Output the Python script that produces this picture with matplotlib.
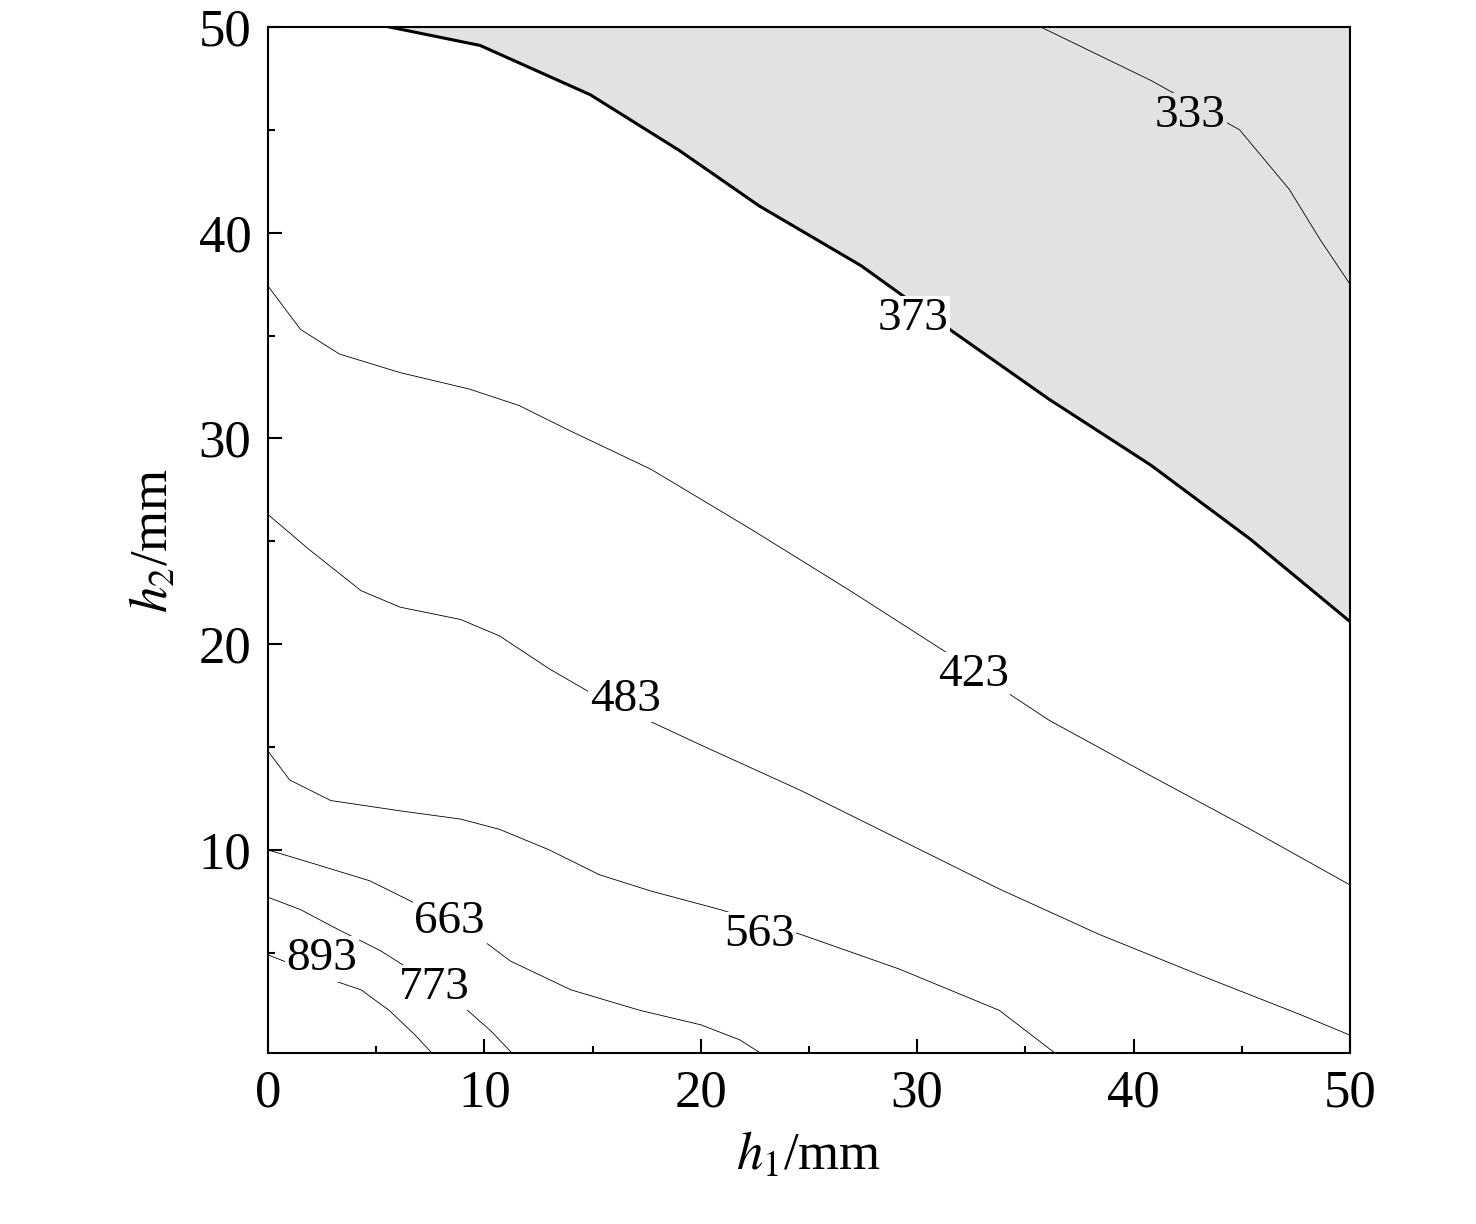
import matplotlib
matplotlib.use("Agg")
import matplotlib.pyplot as plt
from matplotlib.ticker import MultipleLocator

plt.rcParams["font.family"] = ["Liberation Serif", "DejaVu Serif"]
plt.rcParams["mathtext.fontset"] = "stix"

# contour lines: (h1, h2) points
c333_x = [35.7, 40.8, 44.9, 47.2, 48.6, 50.0]
c333_y = [50.0, 47.4, 45.0, 42.1, 39.7, 37.5]
c373_x = [5.6, 9.8, 14.9, 19.0, 22.7, 27.4, 31.5, 36.1, 40.8, 45.4, 50.0]
c373_y = [50.0, 49.1, 46.7, 44.0, 41.3, 38.4, 35.3, 31.9, 28.7, 25.1, 21.1]
c423_x = [0, 1.5, 3.3, 6.1, 9.3, 11.6, 13.9, 17.7, 22.3, 26.9, 31.5, 36.1, 40.8, 45.4, 50.0]
c423_y = [37.4, 35.3, 34.1, 33.2, 32.4, 31.6, 30.4, 28.5, 25.6, 22.6, 19.5, 16.3, 13.6, 11.0, 8.3]
c483_x = [0, 1.9, 4.3, 6.1, 8.9, 10.7, 13.0, 15.3, 20.0, 24.6, 29.2, 33.8, 38.4, 43.1, 47.7, 50.0]
c483_y = [26.3, 24.6, 22.6, 21.8, 21.2, 20.4, 18.8, 17.4, 15.1, 12.9, 10.5, 8.1, 5.9, 3.9, 2.0, 1.0]
c563_x = [0, 1.0, 2.9, 6.1, 8.9, 10.7, 13.0, 15.3, 17.7, 20.9, 24.6, 29.2, 33.8, 36.4]
c563_y = [14.8, 13.4, 12.4, 11.9, 11.5, 11.0, 10.0, 8.8, 8.0, 7.1, 5.9, 4.2, 2.2, 0.1]
c663_x = [0, 1.9, 4.7, 7.0, 9.3, 11.2, 14.0, 17.2, 20.0, 21.8, 22.8]
c663_y = [10.0, 9.4, 8.5, 7.3, 6.1, 4.6, 3.2, 2.2, 1.5, 0.77, 0.1]
c773_x = [0, 1.5, 3.3, 5.2, 7.0, 8.9, 10.3, 11.3]
c773_y = [7.7, 7.1, 6.1, 5.1, 3.9, 2.5, 1.2, 0.1]
c893_x = [0, 2.9, 4.3, 5.6, 6.8, 7.6]
c893_y = [4.9, 3.7, 3.2, 2.2, 1.0, 0.1]

lines = [(c333_x, c333_y, 0.6), (c373_x, c373_y, 2.2), (c423_x, c423_y, 0.6),
         (c483_x, c483_y, 0.6), (c563_x, c563_y, 0.6), (c663_x, c663_y, 0.6),
         (c773_x, c773_y, 0.6), (c893_x, c893_y, 0.6)]

label_text = ["333", "373", "423", "483", "563", "663", "773", "893"]
label_x = [42.6, 29.8, 32.6, 16.5, 22.7, 8.4, 7.7, 2.5]
label_y = [45.7, 35.8, 18.5, 17.3, 5.9, 6.5, 3.3, 4.7]
label_bg = ["#e2e2e2", "white", "white", "white", "white", "white", "white", "white"]

fig = plt.figure(figsize=(14.76, 12.24), dpi=100)
ax = fig.add_axes([0.1816, 0.1397, 0.733, 0.8383])

ax.fill_between(c373_x, c373_y, 50, color="#e2e2e2", zorder=0)
for xs, ys, lw in lines:
    ax.plot(xs, ys, color="black", lw=lw, zorder=2)
for t, x, y, bg in zip(label_text, label_x, label_y, label_bg):
    ax.text(x, y, t, fontsize=34, ha="center", va="center", zorder=3,
            bbox=dict(facecolor=bg, edgecolor="none", pad=1))

ax.set_xlim(0, 50)
ax.set_ylim(0.13, 50)
ax.xaxis.set_major_locator(MultipleLocator(10))
ax.xaxis.set_minor_locator(MultipleLocator(5))
ax.yaxis.set_major_locator(MultipleLocator(10))
ax.yaxis.set_minor_locator(MultipleLocator(5))
ax.tick_params(which="both", direction="in", labelsize=38, width=1.5)
ax.tick_params(which="major", length=10, pad=12)
ax.tick_params(which="minor", length=5)
for s in ax.spines.values():
    s.set_linewidth(1.5)

ax.set_xlabel(r"$\mathit{h}_1$/mm", fontsize=38, labelpad=10)
ax.set_ylabel(r"$\mathit{h}_2$/mm", fontsize=38, labelpad=14)

fig.savefig("out.png", dpi=100)
